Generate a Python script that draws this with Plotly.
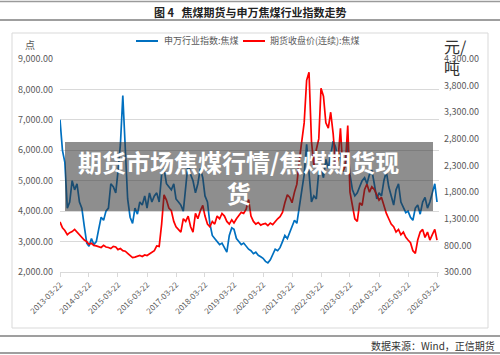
import pandas as pd
import plotly.graph_objects as go

# ---------------- data (monthly readings, 2013-03 .. 2026-03) ----------------
dates = pd.date_range("2013-03-22", periods=157, freq=pd.DateOffset(months=1))

sw_index = [
    7000, 6000, 5600, 4100, 4300, 5000, 4700, 4900, 4300, 4100,
    3500, 2950, 2850, 3100, 2900, 3000, 3400, 3800, 3700, 4000, 4100, 4900,
    4800, 4600, 5300, 6200, 7800, 5800, 4400, 3800, 3600, 4100, 3900, 4300,
    4200, 4500, 4100, 4600, 4300, 4500, 4600, 4300, 5200, 5400, 4900, 4800,
    4700, 4900, 4400, 4300, 4200, 4000, 4700, 5600, 5200, 5000, 4600, 4900,
    5400, 5100, 4500, 4300, 3600, 3200, 3100, 3000, 2900, 2950, 2800, 2650,
    3200, 3450, 3400, 3100, 3000, 2900, 2950, 2850, 2750, 2700, 2600, 2650,
    2550, 2500, 2450, 2350, 2300, 2400, 2600, 2750, 2700, 2800, 3000, 3200,
    3100, 3300, 3500, 3700, 3600, 4100, 4600, 5200, 6200, 5300, 4300, 4500,
    4400, 5300, 5400, 5100, 5700, 5400, 5900, 6300, 6100, 5700, 5900, 5300,
    5500, 6200, 5200, 4700, 4500, 4600, 4800, 5000, 5100, 4900, 5200, 5350,
    4900, 4400, 4600, 4500, 5000, 5300, 4800, 4500, 4200, 4700, 4900, 4300,
    4100, 3950, 4000, 3800, 3700, 4100, 4200, 3900, 4300, 4450, 4100, 4300,
    4600, 4900, 4300,
]

futures_close = [
    1240, 1130, 1080, 1000, 1040, 1060, 1100, 1050, 1000, 960,
    900, 870, 820, 840, 800, 790, 780, 760, 800, 770, 760, 740,
    780, 770, 720, 740, 700, 690, 650, 600, 570, 580, 600, 610,
    590, 620, 610, 640, 680, 700, 790, 780, 1200, 1750, 1650, 1500,
    1450, 1250, 1150, 1100, 1050, 1300, 1250, 1350, 1150, 1050, 1400, 1300,
    1450, 1550, 1350, 1200, 1150, 1250, 1200, 1350, 1300, 1400, 1350, 1250,
    1200, 1280, 1220, 1300, 1350, 1420, 1400, 1480, 1660, 1350, 1250, 1200,
    1230, 1180, 1200, 1210, 1170, 1220, 1190, 1250, 1300, 1340, 1420, 1600,
    1750, 1700, 1600, 1800, 1950, 2400, 2700, 3100, 3900, 4050, 2750, 2300,
    2600, 2800, 3750, 3600, 3100, 3000, 3300, 2900, 2300, 2400, 3000, 2200,
    2300, 3050, 1800, 1500, 1300, 1250, 1600, 1550, 1850, 1950, 1800, 1900,
    1850, 1750, 1650, 1700, 1550, 1400, 1300, 1200, 1150, 1050, 1100, 1000,
    1050, 950, 900, 850, 700, 650, 900, 1050, 1100, 950, 1050, 900,
    1000, 1100, 900,
]

tick_dates = [f"{y}-03-22" for y in range(2013, 2027)]
series_names = ["申万行业指数:焦煤", "期货收盘价(连续):焦煤"]
series_colors = ["#0070C0", "#FF0000"]

# ---------------- layout helpers ----------------
W, H = 500, 355
PL, PR, PT, PB = 60, 439, 59, 272


def px(x):
    return (x - PL) / (PR - PL)


def py(y):
    return (PB - y) / (PB - PT)


FONT = "Noto Sans CJK SC, Noto Sans, sans-serif"
GRAY = "#595959"

fig = go.Figure()
fig.add_trace(go.Scatter(x=dates, y=sw_index, name=series_names[0], mode="lines",
                         line=dict(color=series_colors[0], width=1.7), yaxis="y"))
fig.add_trace(go.Scatter(x=dates, y=futures_close, name=series_names[1], mode="lines",
                         line=dict(color=series_colors[1], width=1.7), yaxis="y2"))

fig.update_layout(
    width=W, height=H,
    margin=dict(l=PL, r=W - PR, t=PT, b=H - PB, autoexpand=False),
    paper_bgcolor="white", plot_bgcolor="white",
    font=dict(family=FONT, color=GRAY),
    xaxis=dict(type="date", range=["2013-03-22", "2026-04-16"],
               tickvals=tick_dates, ticktext=tick_dates, tickangle=-45,
               tickfont=dict(size=8, color=GRAY), showgrid=False,
               showline=True, linecolor="#d9d9d9", linewidth=1,
               ticks="outside", ticklen=4, tickcolor="#d9d9d9", zeroline=False,
               automargin=False),
    yaxis=dict(range=[2000, 9000], tick0=2000, dtick=1000, tickformat=",.2f",
               gridcolor="#d9d9d9", gridwidth=1, zeroline=False, showline=False,
               tickfont=dict(size=9, color=GRAY), ticklabelstandoff=6, automargin=False),
    yaxis2=dict(range=[300, 4300], tick0=300, dtick=500, tickformat=",.2f",
                overlaying="y", side="right", showgrid=False, zeroline=False,
                showline=False, tickfont=dict(size=9, color=GRAY), ticklabelstandoff=4,
                automargin=False),
    showlegend=False,
)

shapes = []


def hline(y, color, width):
    shapes.append(dict(type="line", xref="paper", yref="paper",
                       x0=px(0), x1=px(W), y0=py(y), y1=py(y),
                       line=dict(color=color, width=width)))


hline(1.5, "#9a9a9a", 1.5)
hline(20, "#7f7f7f", 1.5)
hline(336, "#7f7f7f", 1.5)
hline(353, "#7f7f7f", 1.5)
# chart frame
shapes.append(dict(type="rect", xref="paper", yref="paper",
                   x0=px(12), x1=px(488), y0=py(328), y1=py(33),
                   line=dict(color="#d9d9d9", width=1), layer="below"))
# legend samples
legend_pos = [(136, 158, 162), (243, 265, 268)]
for (lx0, lx1, _), col in zip(legend_pos, series_colors):
    shapes.append(dict(type="line", xref="paper", yref="paper",
                       x0=px(lx0), x1=px(lx1), y0=py(41), y1=py(41),
                       line=dict(color=col, width=2)))
# translucent banner
shapes.append(dict(type="rect", xref="paper", yref="paper",
                   x0=px(65), x1=px(433), y0=py(211), y1=py(142),
                   fillcolor="rgba(50,50,50,0.55)", line=dict(width=0), layer="above"))
fig.update_layout(shapes=shapes)

ann = []
for (_, _, tx), name in zip(legend_pos, series_names):
    ann.append(dict(text=name, x=px(tx), y=py(41), xref="paper", yref="paper",
                    showarrow=False, xanchor="left", yanchor="middle",
                    font=dict(size=9, color=GRAY)))
ann.append(dict(text="<b>图 4   焦煤期货与申万焦煤行业指数走势</b>", x=px(250), y=py(12),
                xref="paper", yref="paper", showarrow=False, xanchor="center", yanchor="middle",
                font=dict(size=11, color="#222222", family=FONT)))
ann.append(dict(text="点", x=px(30), y=py(44), xref="paper", yref="paper", showarrow=False,
                xanchor="center", yanchor="middle", font=dict(size=10, color=GRAY)))
ann.append(dict(text="元/<br>吨", x=px(442), y=py(56), xref="paper", yref="paper",
                showarrow=False, xanchor="left", yanchor="middle", align="left",
                font=dict(size=16, color="#333333")))
ann.append(dict(text="<b>期货市场焦煤行情/焦煤期货现<br>货</b>", x=px(238), y=py(177),
                xref="paper", yref="paper", showarrow=False, xanchor="center",
                yanchor="middle", align="center",
                font=dict(size=24, color="white", family=FONT)))
ann.append(dict(text="数据来源：Wind，正信期货", x=px(497), y=py(345), xref="paper",
                yref="paper", showarrow=False, xanchor="right", yanchor="middle",
                font=dict(size=10, color="#333333")))
fig.update_layout(annotations=ann)

fig.write_html("out.html", config={"displayModeBar": False},
               post_script="document.body.style.margin='0';")
